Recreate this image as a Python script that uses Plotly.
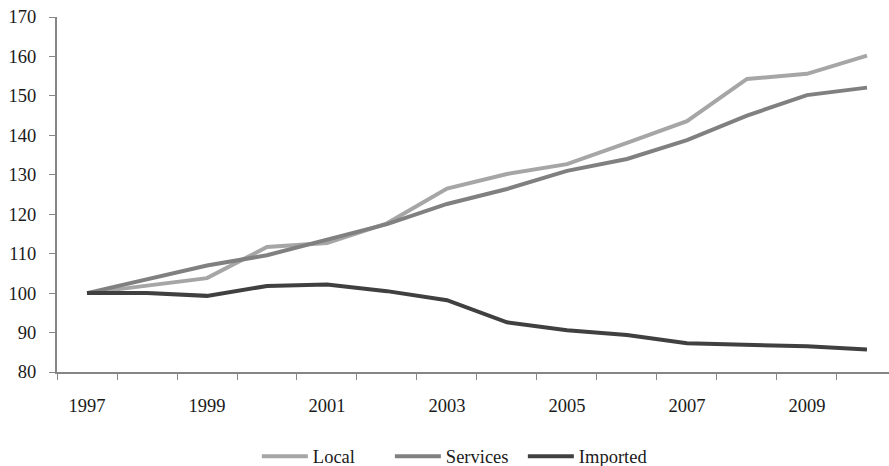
import plotly.graph_objects as go

years = list(range(1997, 2011))
local = [100, 102.0, 103.8, 111.7, 112.7, 117.7, 126.5, 130.2, 132.7, 138.1, 143.6, 154.3, 155.6, 160.2]
services = [100, 103.4, 107.0, 109.6, 113.5, 117.5, 122.6, 126.4, 131.0, 134.0, 138.8, 145.0, 150.2, 152.1]
imported = [100, 100.0, 99.3, 101.8, 102.2, 100.5, 98.2, 92.6, 90.6, 89.4, 87.3, 86.9, 86.5, 85.7]
tick_years = [1997, 1999, 2001, 2003, 2005, 2007, 2009]

font_family = "Liberation Serif"

fig = go.Figure()
fig.add_trace(go.Scatter(x=years, y=local, name="Local", mode="lines",
                         line=dict(color="#a6a6a6", width=4)))
fig.add_trace(go.Scatter(x=years, y=services, name="Services", mode="lines",
                         line=dict(color="#808080", width=4)))
fig.add_trace(go.Scatter(x=years, y=imported, name="Imported", mode="lines",
                         line=dict(color="#404040", width=4)))

fig.update_layout(
    width=889, height=466,
    margin=dict(l=57, r=0, t=17, b=94, autoexpand=False),
    paper_bgcolor="white", plot_bgcolor="white",
    font=dict(family=font_family, size=18.5, color="#1a1a1a"),
    showlegend=True,
    legend=dict(orientation="h", x=0.48, y=-0.292, xanchor="center", yanchor="bottom",
                font=dict(size=18.5), itemwidth=46, entrywidth=72, entrywidthmode="pixels",
                tracegroupgap=0),
    xaxis=dict(range=[1996.5, 2010.367], tickmode="array", tickvals=tick_years,
               ticktext=[str(t) for t in tick_years], ticks="", ticklen=0,
               showgrid=False, zeroline=False, showline=True, automargin=False,
               linecolor="#868686", linewidth=2, ticklabelstandoff=16,
               minor=dict(tick0=1996.5, dtick=1, ticks="outside", ticklen=6,
                          tickcolor="#868686", tickwidth=1, showgrid=False)),
    yaxis=dict(range=[80, 170], dtick=10, tick0=80, ticks="outside", ticklen=6,
               tickcolor="#868686", showgrid=False, zeroline=False, automargin=False,
               showline=True, linecolor="#868686", linewidth=2,
               ticklabelstandoff=9),
)

fig.write_html("out.html", config={"displayModeBar": False},
               post_script="document.body.style.margin='0';document.body.style.overflow='hidden';")
